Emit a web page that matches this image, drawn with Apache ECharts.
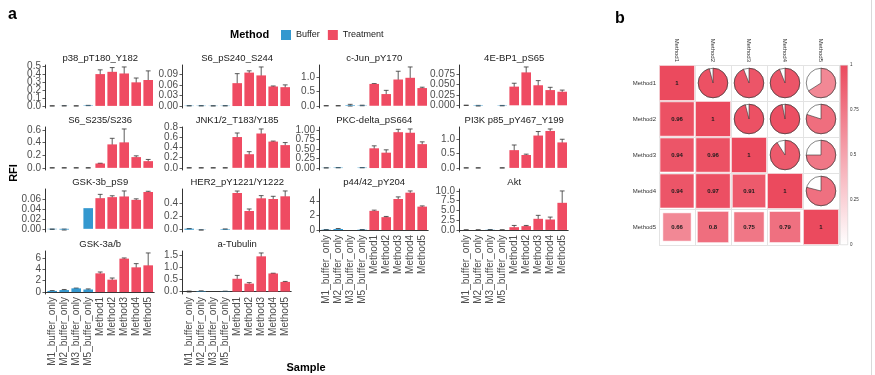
<!DOCTYPE html>
<html lang="en">
<head>
<meta charset="UTF-8">
<title>RFI by sample and method correlation</title>
<style>
    html, body {margin: 0; padding: 0; background: #fff;}
    #chart {width: 875px; height: 375px;}
</style>
</head>
<body>
<div id="chart"></div>
<script src="https://cdn.jsdelivr.net/npm/echarts@6/dist/echarts.min.js"></script>
<script>
    // ---- data ----
    var samples = ['M1_buffer_only', 'M2_buffer_only', 'M3_buffer_only', 'M5_buffer_only',
        'Method1', 'Method2', 'Method3', 'Method4', 'Method5'];
    var nBuffer = 4;

    var proteins = ['p38_pT180_Y182', 'S6_pS240_S244', 'c-Jun_pY170', '4E-BP1_pS65',
        'S6_S235/S236', 'JNK1/2_T183/Y185', 'PKC-delta_pS664', 'PI3K p85_pY467_Y199',
        'GSK-3b_pS9', 'HER2_pY1221/Y1222', 'p44/42_pY204', 'Akt',
        'GSK-3a/b', 'a-Tubulin'];

    // mean RFI per protein (rows) and sample (columns), null = not measured
    var rfiMean = [
        [0, 0.001, 0, 0.005, 0.405, 0.434, 0.413, 0.300, 0.330],
        [0.0008, 0.0008, 0.0006, 0.0008, 0.065, 0.095, 0.087, 0.0555, 0.0536],
        [0, 0, 0.02, 0.01, 0.765, 0.41, 0.92, 0.98, 0.62],
        [0, -0.001, null, -0.0008, 0.0454, 0.080, 0.0487, 0.037, 0.033],
        [0, 0, 0, 0, 0.069, 0.371, 0.403, 0.17, 0.106],
        [0, 0, 0, 0, 0.61, 0.27, 0.68, 0.52, 0.45],
        [0.005, 0.01, null, 0.01, 0.52, 0.405, 0.945, 0.93, 0.63],
        [0, 0, null, 0, 0.62, 0.45, 1.13, 1.29, 0.89],
        [-0.0008, -0.0015, null, 0.0424, 0.0629, 0.065, 0.0664, 0.0594, 0.0756],
        [0.015, -0.003, null, 0.008, 0.549, 0.28, 0.47, 0.46, 0.50],
        [0.05, 0.15, null, 0.05, 2.68, 1.80, 4.34, 5.22, 3.27],
        [0, 0, 0.05, 0, 0.71, 0.98, 2.86, 2.68, 6.96],
        [0.2, 0.35, 0.65, 0.45, 3.29, 2.18, 5.88, 4.35, 4.70],
        [0, 0.02, null, 0.01, 0.53, 0.33, 1.46, 0.75, 0.40]
    ];
    var rfiSd = [
        [0.002, 0.002, 0.002, 0.002, 0.054, 0.054, 0.083, 0.055, 0.116],
        [0.0004, 0.0004, 0.0004, 0.0004, 0.027, 0.005, 0.024, 0.0015, 0.0065],
        [0.005, 0.005, 0.03, 0.01, 0.01, 0.13, 0.29, 0.38, 0.03],
        [0.0003, 0.0008, null, 0.0005, 0.0082, 0.0132, 0.0113, 0.0067, 0.004],
        [0.003, 0.003, 0.003, 0.003, 0.004, 0.096, 0.212, 0.02, 0.027],
        [0.004, 0.004, 0.004, 0.004, 0.08, 0.05, 0.09, 0.01, 0.05],
        [0.002, 0.003, null, 0.003, 0.065, 0.075, 0.075, 0.10, 0.06],
        [0.005, 0.005, null, 0.005, 0.18, 0.03, 0.14, 0.07, 0.11],
        [0.0005, 0.001, null, null, 0.0078, 0.0028, 0.0113, 0.0021, 0.0014],
        [0.003, 0.002, null, 0.002, 0.03, 0.03, 0.04, 0.04, 0.08],
        [0.02, 0.06, null, 0.02, 0.10, 0.10, 0.29, 0.24, 0.10],
        [0.02, 0.02, 0.05, 0.02, 0.45, 0.18, 0.89, 0.62, 3.04],
        [0.05, 0.1, 0.05, 0.1, 0.24, 0.29, 0.12, 0.65, 2.18],
        [0.02, 0.005, null, 0.003, 0.14, 0.04, 0.14, 0.01, 0.02]
    ];
    var yTickLabels = [
        ['0.0', '0.1', '0.2', '0.3', '0.4', '0.5'],
        ['0.00', '0.03', '0.06', '0.09'],
        ['0.0', '0.5', '1.0'],
        ['0.000', '0.025', '0.050', '0.075'],
        ['0.0', '0.2', '0.4', '0.6'],
        ['0.0', '0.2', '0.4', '0.6', '0.8'],
        ['0.00', '0.25', '0.50', '0.75', '1.00'],
        ['0.0', '0.5', '1.0'],
        ['0.00', '0.02', '0.04', '0.06'],
        ['0.0', '0.2', '0.4'],
        ['0', '2', '4'],
        ['0.0', '2.5', '5.0', '7.5', '10.0'],
        ['0', '2', '4', '6'],
        ['0.0', '0.5', '1.0', '1.5']
    ];

    var methods = ['Method1', 'Method2', 'Method3', 'Method4', 'Method5'];
    var corrMatrix = [
        [1, 0.96, 0.94, 0.94, 0.66],
        [0.96, 1, 0.96, 0.97, 0.8],
        [0.94, 0.96, 1, 0.91, 0.75],
        [0.94, 0.97, 0.91, 1, 0.79],
        [0.66, 0.8, 0.75, 0.79, 1]
    ];
    var colorbarTicks = ['0', '0.25', '0.5', '0.75', '1'];

    // ---- layout / style ----
    var FONT = 'Liberation Sans, Arial, sans-serif';
    var BLUE = '#3498CF', RED = '#EF4B62', CORR_RED = '#EB4A5E';
    var colX = [45, 182, 319, 459];
    var rowY = [65, 127, 189, 251];
    var band = 12, panelH = 43, pad = 1.2;
    var bottomPanels = [10, 11, 12, 13];

    var grids = [], xAxes = [], yAxes = [], series = [];
    var graphics = [
        {type: 'text', x: 8, y: 15, style: {text: 'a', fontSize: 16, fontWeight: 'bold', fontFamily: FONT, fill: '#000', verticalAlign: 'middle'}},
        {type: 'text', x: 615, y: 19, style: {text: 'b', fontSize: 16, fontWeight: 'bold', fontFamily: FONT, fill: '#000', verticalAlign: 'middle'}},
        {type: 'text', x: 230, y: 35, style: {text: 'Method', fontSize: 11, fontWeight: 'bold', fontFamily: FONT, fill: '#000', verticalAlign: 'middle'}},
        {type: 'text', x: 14, y: 173, rotation: Math.PI / 2, style: {text: 'RFI', fontSize: 11, fontWeight: 'bold', fontFamily: FONT, fill: '#000', align: 'center', verticalAlign: 'middle'}},
        {type: 'text', x: 306, y: 368, style: {text: 'Sample', fontSize: 11, fontWeight: 'bold', fontFamily: FONT, fill: '#000', align: 'center', verticalAlign: 'middle'}},
        {type: 'line', shape: {x1: 871.5, y1: 0, x2: 871.5, y2: 375}, style: {stroke: '#d9d9d9', lineWidth: 1}}
    ];

    function errorBarItem(params, api) {
        var x = api.value(0);
        var p0 = api.coord([x, api.value(1)]);
        var p1 = api.coord([x, api.value(2)]);
        var w = api.size([1, 0])[0] * 0.2;
        var st = {stroke: '#333', lineWidth: 0.8};
        return {
            type: 'group', children: [
                {type: 'line', shape: {x1: p0[0], y1: p0[1], x2: p1[0], y2: p1[1]}, style: st},
                {type: 'line', shape: {x1: p0[0] - w, y1: p0[1], x2: p0[0] + w, y2: p0[1]}, style: st},
                {type: 'line', shape: {x1: p1[0] - w, y1: p1[1], x2: p1[0] + w, y2: p1[1]}, style: st}
            ]
        };
    }

    // y tick labels are drawn by a custom series so that ECharts does not drop
    // the tightly packed ones (ggplot keeps them all)
    function tickLabelSeries(i, ticks, labels) {
        return {
            type: 'custom', xAxisIndex: i, yAxisIndex: i, silent: true, z: 3, clip: false,
            data: ticks.map(function (t) { return [0, t]; }),
            renderItem: function (params, api) {
                var p = api.coord([0, api.value(1)]);
                var x = p[0] - api.size([1, 0])[0] / 2 - pad - 4;
                return {
                    type: 'text', x: x, y: p[1],
                    style: {text: labels[params.dataIndex], fontSize: 10, fontFamily: FONT, fill: '#4D4D4D', align: 'right', verticalAlign: 'middle'}
                };
            }
        };
    }

    proteins.forEach(function (name, i) {
        var col = i % 4, row = Math.floor(i / 4);
        var left = colX[col] + pad;
        var mean = rfiMean[i], sd = rfiSd[i];
        var lo = 0, hi = 0;
        var bufData = [], trtData = [], errData = [];
        mean.forEach(function (m, j) {
            if (m === null) {
                bufData.push('-');
                trtData.push('-');
                return;
            }
            var s = sd[j];
            bufData.push(j < nBuffer ? m : '-');
            trtData.push(j < nBuffer ? '-' : m);
            lo = Math.min(lo, m);
            hi = Math.max(hi, m);
            if (s !== null) {
                errData.push([j, m - s, m + s]);
                lo = Math.min(lo, m - s);
                hi = Math.max(hi, m + s);
            }
        });
        var ext = (hi - lo) * 0.05;
        var ticks = yTickLabels[i].map(Number);

        grids.push({left: left, top: rowY[row], width: band * 9, height: panelH});
        var isBottom = bottomPanels.indexOf(i) >= 0;
        xAxes.push({
            type: 'category', gridIndex: i, data: samples, show: isBottom,
            axisLine: {lineStyle: {color: '#000', width: 0.8}},
            axisTick: {alignWithLabel: true, length: 3, lineStyle: {color: '#333', width: 0.8}},
            axisLabel: {rotate: 90, interval: 0, fontSize: 10, color: '#4D4D4D', fontFamily: FONT, margin: 3}
        });
        yAxes.push({
            type: 'value', gridIndex: i, min: lo - ext, max: hi + ext, offset: pad,
            axisLine: {show: true, lineStyle: {color: '#000', width: 0.8}},
            axisTick: {show: true, length: 2.5, customValues: ticks, lineStyle: {color: '#333', width: 0.8}},
            axisLabel: {show: false},
            splitLine: {show: false}
        });
        graphics.push({
            type: 'text', x: left + band * 4.5, y: rowY[row] - 7,
            style: {text: name, fontSize: 9.5, fontFamily: FONT, fill: '#1A1A1A', align: 'center', verticalAlign: 'middle'}
        });

        series.push({
            type: 'custom', name: 'err', xAxisIndex: i, yAxisIndex: i, z: 1, silent: true,
            renderItem: errorBarItem, data: errData
        });
        series.push({
            type: 'bar', name: 'Buffer', xAxisIndex: i, yAxisIndex: i, z: 2, data: bufData,
            barWidth: '80%', barGap: '-100%', itemStyle: {color: BLUE}, silent: true
        });
        series.push({
            type: 'bar', name: 'Treatment', xAxisIndex: i, yAxisIndex: i, z: 2, data: trtData,
            barWidth: '80%', barGap: '-100%', itemStyle: {color: RED}, silent: true
        });
        series.push(tickLabelSeries(i, ticks, yTickLabels[i]));
    });

    // ---- panel b: correlation matrix ----
    var gb = proteins.length;
    grids.push({left: 659, top: 65, width: 180, height: 180});
    xAxes.push({
        type: 'category', gridIndex: gb, data: methods, position: 'top',
        axisLine: {show: false}, axisTick: {show: false},
        axisLabel: {rotate: 90, interval: 0, fontSize: 6, color: '#333', fontFamily: FONT, margin: 3},
        splitLine: {show: true, interval: 0, lineStyle: {color: '#E3E3E3', width: 1}}
    });
    yAxes.push({
        type: 'category', gridIndex: gb, data: methods, inverse: true,
        axisLine: {show: false}, axisTick: {show: false},
        axisLabel: {interval: 0, fontSize: 6, color: '#333', fontFamily: FONT, margin: 3},
        splitLine: {show: true, interval: 0, lineStyle: {color: '#E3E3E3', width: 1}}
    });
    var corrData = [];
    for (var r = 0; r < methods.length; r++) {
        for (var c = 0; c < methods.length; c++) {
            corrData.push([c, r, corrMatrix[r][c]]);
        }
    }
    series.push({
        type: 'custom', xAxisIndex: gb, yAxisIndex: gb, silent: true, data: corrData,
        renderItem: function (params, api) {
            var x = api.value(0), y = api.value(1), v = api.value(2);
            var p = api.coord([x, y]);
            var s = api.size([1, 1]);
            var fill = echarts.color.lerp(v, ['#FFFFFF', CORR_RED]);
            if (x <= y) {
                var side = Math.sqrt(Math.abs(v)) * s[0] - 1;
                return {
                    type: 'group', children: [
                        {type: 'rect', shape: {x: p[0] - side / 2, y: p[1] - side / 2, width: side, height: side},
                            style: {fill: fill, stroke: '#fff', lineWidth: 0.5}},
                        {type: 'text', x: p[0], y: p[1],
                            style: {text: String(v), fontSize: 6, fontWeight: 'bold', fontFamily: FONT, fill: '#1A1A1A', align: 'center', verticalAlign: 'middle'}}
                    ]
                };
            }
            var rad = s[0] * 0.41;
            var start = -Math.PI / 2;
            return {
                type: 'group', children: [
                    {type: 'circle', shape: {cx: p[0], cy: p[1], r: rad}, style: {fill: '#fff', stroke: '#333', lineWidth: 0.6}},
                    {type: 'sector', shape: {cx: p[0], cy: p[1], r: rad, r0: 0, startAngle: start, endAngle: start + v * Math.PI * 2, clockwise: true},
                        style: {fill: fill, stroke: '#333', lineWidth: 0.6}}
                ]
            };
        }
    });

    // colour bar
    var gc = gb + 1;
    var cbValues = colorbarTicks.map(Number);
    grids.push({left: 840, top: 65, width: 8, height: 180});
    xAxes.push({type: 'category', gridIndex: gc, data: [''], show: false});
    yAxes.push({
        type: 'value', gridIndex: gc, min: 0, max: 1, position: 'right',
        axisLine: {show: false},
        axisTick: {show: true, inside: true, length: 2, customValues: cbValues, lineStyle: {color: '#fff', width: 0.6}},
        axisLabel: {
            customValues: cbValues, showMinLabel: true, showMaxLabel: true,
            fontSize: 4.5, color: '#333', fontFamily: FONT, margin: 2,
            formatter: function (v) {
                for (var k = 0; k < cbValues.length; k++) {
                    if (Math.abs(cbValues[k] - v) < 1e-9) return colorbarTicks[k];
                }
                return '';
            }
        },
        splitLine: {show: false}
    });
    series.push({
        type: 'bar', xAxisIndex: gc, yAxisIndex: gc, data: [1], barWidth: '100%', silent: true, z: 1,
        itemStyle: {
            borderColor: '#C8C8C8', borderWidth: 0.5,
            color: new echarts.graphic.LinearGradient(0, 0, 0, 1, [
                {offset: 0, color: CORR_RED}, {offset: 1, color: '#FFFFFF'}
            ])
        }
    });

    var chart = echarts.init(document.getElementById('chart'));
    chart.setOption({
        backgroundColor: '#fff',
        animation: false,
        textStyle: {fontFamily: FONT},
        legend: {
            data: ['Buffer', 'Treatment'], left: 281, top: 30, padding: 0,
            itemWidth: 10, itemHeight: 10, itemGap: 8, icon: 'rect', selectedMode: false,
            textStyle: {fontSize: 9, color: '#1A1A1A', fontFamily: FONT}
        },
        grid: grids,
        xAxis: xAxes,
        yAxis: yAxes,
        series: series,
        graphic: graphics
    });
</script>
</body>
</html>
